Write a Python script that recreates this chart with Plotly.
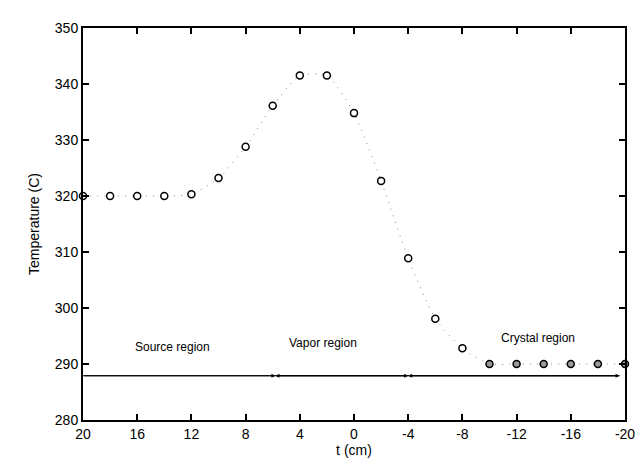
import plotly.graph_objects as go

t_cm = [20, 18, 16, 14, 12, 10, 8, 6, 4, 2, 0, -2, -4, -6, -8, -10, -12, -14, -16, -18, -20]
temp_c = [320, 320, 320, 320, 320.3, 323.2, 328.8, 336.1, 341.5, 341.5, 334.8, 322.7,
          308.9, 298.1, 292.8, 290, 290, 290, 290, 290, 290]
marker_fill = ["white"] * 15 + ["#999999"] * 6

region_names = ["Source region", "Vapor region", "Crystal region"]
region_label_x = [13.4, 2.3, -13.6]
region_label_y = [293.0, 293.7, 294.6]
region_bounds = [20, 5.8, -4.0, -19.6]
arrow_y = 287.9

fig = go.Figure()
fig.add_trace(go.Scatter(
    x=t_cm, y=temp_c, mode="lines",
    line=dict(color="#888888", width=1, dash="1px,6px", shape="spline", smoothing=0.6),
    showlegend=False, hoverinfo="skip"))
fig.add_trace(go.Scatter(
    x=t_cm, y=temp_c, mode="markers",
    marker=dict(symbol="circle", size=7, color=marker_fill,
                line=dict(color="black", width=1.5)),
    showlegend=False, cliponaxis=False))

# region arrows
fig.add_trace(go.Scatter(
    x=region_bounds, y=[arrow_y] * len(region_bounds), mode="lines",
    line=dict(color="black", width=1), showlegend=False, hoverinfo="skip"))
for i in range(len(region_bounds) - 1):
    x0, x1 = region_bounds[i], region_bounds[i + 1]
    fig.add_annotation(x=x1, y=arrow_y, ax=x0, ay=arrow_y, xref="x", yref="y",
                       axref="x", ayref="y", showarrow=True, arrowhead=2,
                       arrowsize=0.8, arrowwidth=1, arrowcolor="black", text="")
    if i > 0:
        fig.add_annotation(x=x0, y=arrow_y, ax=x1, ay=arrow_y, xref="x", yref="y",
                           axref="x", ayref="y", showarrow=True, arrowhead=2,
                           arrowsize=0.8, arrowwidth=1, arrowcolor="black", text="",
                           standoff=0)

for name, lx, ly in zip(region_names, region_label_x, region_label_y):
    fig.add_annotation(x=lx, y=ly, text=name, showarrow=False,
                       font=dict(size=12, color="black", family="Liberation Sans, Arial"))

fig.update_layout(
    width=644, height=465,
    margin=dict(l=75, r=27, t=13, b=53),
    plot_bgcolor="white", paper_bgcolor="white",
    font=dict(family="Liberation Sans, Arial", size=14, color="black"),
    xaxis=dict(range=[20, -20], tickvals=[20, 16, 12, 8, 4, 0, -4, -8, -12, -16, -20],
               ticktext=["20", "16", "12", "8", "4", "0", "-4", "-8", "-12", "-16", "-20"],
               ticks="inside", ticklen=6, tickcolor="black", tickwidth=1.5, showline=True,
               linecolor="black", linewidth=2, mirror="ticks", showgrid=False,
               zeroline=False, title=dict(text="t (cm)", standoff=3, font=dict(size=14))),
    yaxis=dict(range=[280, 350], dtick=10, ticks="inside", ticklen=6, tickwidth=1.5,
               tickcolor="black", showline=True, linecolor="black", linewidth=2,
               mirror="ticks", showgrid=False, zeroline=False,
               title=dict(text="Temperature (C)", standoff=12, font=dict(size=14))),
)

fig.write_html("out.html")
